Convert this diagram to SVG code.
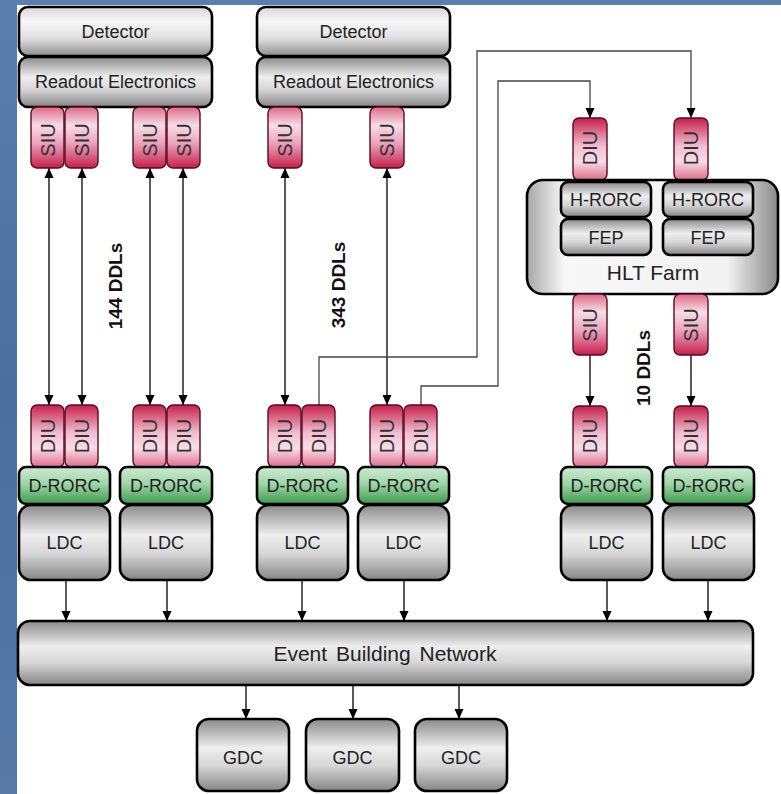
<svg xmlns="http://www.w3.org/2000/svg" width="781" height="794" viewBox="0 0 781 794">
<defs>
<linearGradient id="gBg" x1="0" y1="0" x2="0" y2="1"><stop offset="0" stop-color="#5a7fae"/><stop offset="0.5" stop-color="#4a70a0"/><stop offset="1" stop-color="#5679a8"/></linearGradient>
<linearGradient id="gDet" x1="0" y1="0" x2="0" y2="1"><stop offset="0" stop-color="#d8d8d8"/><stop offset="0.3" stop-color="#f7f7f7"/><stop offset="0.65" stop-color="#dedede"/><stop offset="1" stop-color="#8e8e8e"/></linearGradient>
<linearGradient id="gGray" x1="0" y1="0" x2="0" y2="1"><stop offset="0" stop-color="#8a8a8a"/><stop offset="0.4" stop-color="#eeeeee"/><stop offset="0.65" stop-color="#d6d6d6"/><stop offset="1" stop-color="#858585"/></linearGradient>
<linearGradient id="gHlt" x1="0" y1="0" x2="1" y2="0"><stop offset="0" stop-color="#a8a8a8"/><stop offset="0.15" stop-color="#f8f8f8"/><stop offset="0.8" stop-color="#f2f2f2"/><stop offset="1" stop-color="#8a8a8a"/></linearGradient>
<linearGradient id="gSiu" x1="0" y1="0" x2="0" y2="1"><stop offset="0" stop-color="#dd6a8c"/><stop offset="0.3" stop-color="#f7dde6"/><stop offset="0.6" stop-color="#eaa2ba"/><stop offset="1" stop-color="#c61f4b"/></linearGradient>
<linearGradient id="gDiu" x1="0" y1="0" x2="0" y2="1"><stop offset="0" stop-color="#c61f4b"/><stop offset="0.45" stop-color="#f0bfcf"/><stop offset="0.7" stop-color="#f7dde6"/><stop offset="1" stop-color="#de6d8f"/></linearGradient>
<linearGradient id="gGreen" x1="0" y1="0" x2="0" y2="1"><stop offset="0" stop-color="#cdebd2"/><stop offset="0.45" stop-color="#9fd6a8"/><stop offset="1" stop-color="#3e9a4f"/></linearGradient>
<marker id="ah" viewBox="0 0 10 10" refX="10" refY="5" markerWidth="10" markerHeight="10" markerUnits="userSpaceOnUse" orient="auto-start-reverse"><path d="M0,0.5 L10,5 L0,9.5 z" fill="#000"/></marker>
</defs>
<style>
.box{stroke:#000;stroke-width:2.6}
.det{fill:url(#gDet)}
.gray{fill:url(#gGray)}
.siu{fill:url(#gSiu);stroke:#5a0a1e;stroke-width:1.4}
.diu{fill:url(#gDiu);stroke:#5a0a1e;stroke-width:1.4}
.grn{fill:url(#gGreen)}
.hlt{fill:url(#gHlt)}
text{font-family:"Liberation Sans",Arial,sans-serif;fill:#222;text-anchor:middle}
.t18{font-size:18px}
.t21{font-size:21px}
.tu{font-size:20px;fill:#333}
.ddl{font-size:19px;font-weight:bold;fill:#111}
.cn{fill:none;stroke:#000;stroke-width:1.3}
.cg{fill:none;stroke:#444;stroke-width:1.3}
</style>
<rect x="0" y="0" width="781" height="794" fill="url(#gBg)"/>
<rect x="17" y="5" width="764" height="789" fill="#fff"/>

<g id="connectors">
<line class="cn" x1="49" y1="168" x2="49" y2="405" marker-start="url(#ah)" marker-end="url(#ah)"/>
<line class="cn" x1="82" y1="168" x2="82" y2="405" marker-start="url(#ah)" marker-end="url(#ah)"/>
<line class="cn" x1="150" y1="168" x2="150" y2="405" marker-start="url(#ah)" marker-end="url(#ah)"/>
<line class="cn" x1="183" y1="168" x2="183" y2="405" marker-start="url(#ah)" marker-end="url(#ah)"/>
<line class="cn" x1="285" y1="168" x2="285" y2="405" marker-start="url(#ah)" marker-end="url(#ah)"/>
<line class="cn" x1="387" y1="168" x2="387" y2="405" marker-start="url(#ah)" marker-end="url(#ah)"/>
<path class="cg" d="M319,405 V357 H477 V51 H691 V118" marker-end="url(#ah)"/>
<path class="cg" d="M421,405 V386 H498 V81 H590 V118" marker-end="url(#ah)"/>
<line class="cn" x1="590" y1="355" x2="590" y2="406" marker-end="url(#ah)"/>
<line class="cn" x1="691" y1="355" x2="691" y2="406" marker-end="url(#ah)"/>
<line class="cn" x1="66" y1="580" x2="66" y2="621" marker-end="url(#ah)"/>
<line class="cn" x1="167" y1="580" x2="167" y2="621" marker-end="url(#ah)"/>
<line class="cn" x1="302" y1="580" x2="302" y2="621" marker-end="url(#ah)"/>
<line class="cn" x1="404" y1="580" x2="404" y2="621" marker-end="url(#ah)"/>
<line class="cn" x1="607" y1="580" x2="607" y2="621" marker-end="url(#ah)"/>
<line class="cn" x1="708" y1="580" x2="708" y2="621" marker-end="url(#ah)"/>
<line class="cn" x1="246" y1="685" x2="246" y2="719" marker-end="url(#ah)"/>
<line class="cn" x1="353" y1="685" x2="353" y2="719" marker-end="url(#ah)"/>
<line class="cn" x1="459" y1="685" x2="459" y2="719" marker-end="url(#ah)"/>
</g>

<g id="labels">
<text class="ddl" transform="translate(115,286) rotate(-90)" dy="0.35em">144 DDLs</text>
<text class="ddl" transform="translate(338,285) rotate(-90)" dy="0.35em">343 DDLs</text>
<text class="ddl" transform="translate(643,368) rotate(-90)" dy="0.35em">10 DDLs</text>
</g>

<g id="detector1">
<rect class="box det" x="19" y="7" width="193" height="49" rx="9"/>
<text class="t18" x="115.5" y="38">Detector</text>
</g>
<g id="readout1">
<rect class="box gray" x="19" y="57" width="193" height="50" rx="9"/>
<text class="t18" x="115.5" y="88">Readout Electronics</text>
</g>
<g id="detector2">
<rect class="box det" x="257" y="7" width="193" height="49" rx="9"/>
<text class="t18" x="353.5" y="38">Detector</text>
</g>
<g id="readout2">
<rect class="box gray" x="257" y="57" width="193" height="50" rx="9"/>
<text class="t18" x="353.5" y="88">Readout Electronics</text>
</g>

<g id="siu-top">
<g id="siu1"><rect class="siu" x="31" y="107" width="33" height="61" rx="6"/><text class="tu" transform="translate(47.5,140) rotate(-90)" dy="0.35em">SIU</text></g>
<g id="siu2"><rect class="siu" x="65" y="107" width="33" height="61" rx="6"/><text class="tu" transform="translate(81.5,140) rotate(-90)" dy="0.35em">SIU</text></g>
<g id="siu3"><rect class="siu" x="133" y="107" width="33" height="61" rx="6"/><text class="tu" transform="translate(149.5,140) rotate(-90)" dy="0.35em">SIU</text></g>
<g id="siu4"><rect class="siu" x="167" y="107" width="33" height="61" rx="6"/><text class="tu" transform="translate(183.5,140) rotate(-90)" dy="0.35em">SIU</text></g>
<g id="siu5"><rect class="siu" x="268" y="107" width="34" height="61" rx="6"/><text class="tu" transform="translate(285,140) rotate(-90)" dy="0.35em">SIU</text></g>
<g id="siu6"><rect class="siu" x="370" y="107" width="34" height="61" rx="6"/><text class="tu" transform="translate(387,140) rotate(-90)" dy="0.35em">SIU</text></g>
</g>

<g id="hlt-diu">
<g id="diu-h1"><rect class="diu" x="573" y="118" width="34" height="62" rx="6"/><text class="tu" transform="translate(590,148) rotate(-90)" dy="0.35em">DIU</text></g>
<g id="diu-h2"><rect class="diu" x="674" y="118" width="34" height="62" rx="6"/><text class="tu" transform="translate(691,148) rotate(-90)" dy="0.35em">DIU</text></g>
</g>

<g id="hlt-farm">
<rect class="box hlt" x="527" y="180" width="251" height="114" rx="16"/>
<text class="t21" x="653" y="280">HLT Farm</text>
</g>
<g id="hrorc1"><rect class="box gray" x="561" y="182" width="90" height="35" rx="7"/><text class="t18" x="606" y="206">H-RORC</text></g>
<g id="hrorc2"><rect class="box gray" x="663" y="182" width="90" height="35" rx="7"/><text class="t18" x="708" y="206">H-RORC</text></g>
<g id="fep1"><rect class="box gray" x="561" y="219" width="90" height="36" rx="7"/><text class="t18" x="606" y="243.5">FEP</text></g>
<g id="fep2"><rect class="box gray" x="663" y="219" width="90" height="36" rx="7"/><text class="t18" x="708" y="243.5">FEP</text></g>

<g id="hlt-siu">
<g id="siu-h1"><rect class="siu" x="573" y="294" width="34" height="61" rx="6"/><text class="tu" transform="translate(590,325) rotate(-90)" dy="0.35em">SIU</text></g>
<g id="siu-h2"><rect class="siu" x="674" y="294" width="34" height="61" rx="6"/><text class="tu" transform="translate(691,325) rotate(-90)" dy="0.35em">SIU</text></g>
</g>

<g id="diu-bottom">
<g id="diu1"><rect class="diu" x="31" y="405" width="33" height="62" rx="6"/><text class="tu" transform="translate(47.5,436) rotate(-90)" dy="0.35em">DIU</text></g>
<g id="diu2"><rect class="diu" x="65" y="405" width="33" height="62" rx="6"/><text class="tu" transform="translate(81.5,436) rotate(-90)" dy="0.35em">DIU</text></g>
<g id="diu3"><rect class="diu" x="133" y="405" width="33" height="62" rx="6"/><text class="tu" transform="translate(149.5,436) rotate(-90)" dy="0.35em">DIU</text></g>
<g id="diu4"><rect class="diu" x="167" y="405" width="33" height="62" rx="6"/><text class="tu" transform="translate(183.5,436) rotate(-90)" dy="0.35em">DIU</text></g>
<g id="diu5"><rect class="diu" x="268" y="405" width="33" height="62" rx="6"/><text class="tu" transform="translate(284.5,436) rotate(-90)" dy="0.35em">DIU</text></g>
<g id="diu6"><rect class="diu" x="302" y="405" width="33" height="62" rx="6"/><text class="tu" transform="translate(318.5,436) rotate(-90)" dy="0.35em">DIU</text></g>
<g id="diu7"><rect class="diu" x="370" y="405" width="33" height="62" rx="6"/><text class="tu" transform="translate(386.5,436) rotate(-90)" dy="0.35em">DIU</text></g>
<g id="diu8"><rect class="diu" x="404" y="405" width="33" height="62" rx="6"/><text class="tu" transform="translate(420.5,436) rotate(-90)" dy="0.35em">DIU</text></g>
<g id="diu9"><rect class="diu" x="573" y="406" width="34" height="61" rx="6"/><text class="tu" transform="translate(590,436) rotate(-90)" dy="0.35em">DIU</text></g>
<g id="diu10"><rect class="diu" x="674" y="406" width="34" height="61" rx="6"/><text class="tu" transform="translate(691,436) rotate(-90)" dy="0.35em">DIU</text></g>
</g>

<g id="drorc">
<g id="drorc1"><rect class="box grn" x="19" y="467" width="91" height="37" rx="7"/><text class="t18" x="64.5" y="492">D-RORC</text></g>
<g id="drorc2"><rect class="box grn" x="120" y="467" width="92" height="37" rx="7"/><text class="t18" x="166" y="492">D-RORC</text></g>
<g id="drorc3"><rect class="box grn" x="257" y="467" width="91" height="37" rx="7"/><text class="t18" x="302.5" y="492">D-RORC</text></g>
<g id="drorc4"><rect class="box grn" x="358" y="467" width="91" height="37" rx="7"/><text class="t18" x="403.5" y="492">D-RORC</text></g>
<g id="drorc5"><rect class="box grn" x="561" y="467" width="91" height="37" rx="7"/><text class="t18" x="606.5" y="492">D-RORC</text></g>
<g id="drorc6"><rect class="box grn" x="663" y="467" width="91" height="37" rx="7"/><text class="t18" x="708.5" y="492">D-RORC</text></g>
</g>

<g id="ldc">
<g id="ldc1"><rect class="box gray" x="19" y="505" width="91" height="75" rx="12"/><text class="t18" x="64.5" y="549">LDC</text></g>
<g id="ldc2"><rect class="box gray" x="120" y="505" width="92" height="75" rx="12"/><text class="t18" x="166" y="549">LDC</text></g>
<g id="ldc3"><rect class="box gray" x="257" y="505" width="91" height="75" rx="12"/><text class="t18" x="302.5" y="549">LDC</text></g>
<g id="ldc4"><rect class="box gray" x="358" y="505" width="91" height="75" rx="12"/><text class="t18" x="403.5" y="549">LDC</text></g>
<g id="ldc5"><rect class="box gray" x="561" y="505" width="91" height="75" rx="12"/><text class="t18" x="606.5" y="549">LDC</text></g>
<g id="ldc6"><rect class="box gray" x="663" y="505" width="91" height="75" rx="12"/><text class="t18" x="708.5" y="549">LDC</text></g>
</g>

<g id="ebn">
<rect class="box gray" x="18" y="621" width="735" height="64" rx="12"/>
<text x="385" y="661" style="font-size:21px;word-spacing:3px">Event Building Network</text>
</g>

<g id="gdc">
<g id="gdc1"><rect class="box gray" x="197" y="719" width="92" height="72" rx="12"/><text class="t18" x="243" y="764">GDC</text></g>
<g id="gdc2"><rect class="box gray" x="306" y="719" width="93" height="72" rx="12"/><text class="t18" x="352.5" y="764">GDC</text></g>
<g id="gdc3"><rect class="box gray" x="415" y="719" width="92" height="72" rx="12"/><text class="t18" x="461" y="764">GDC</text></g>
</g>
</svg>
